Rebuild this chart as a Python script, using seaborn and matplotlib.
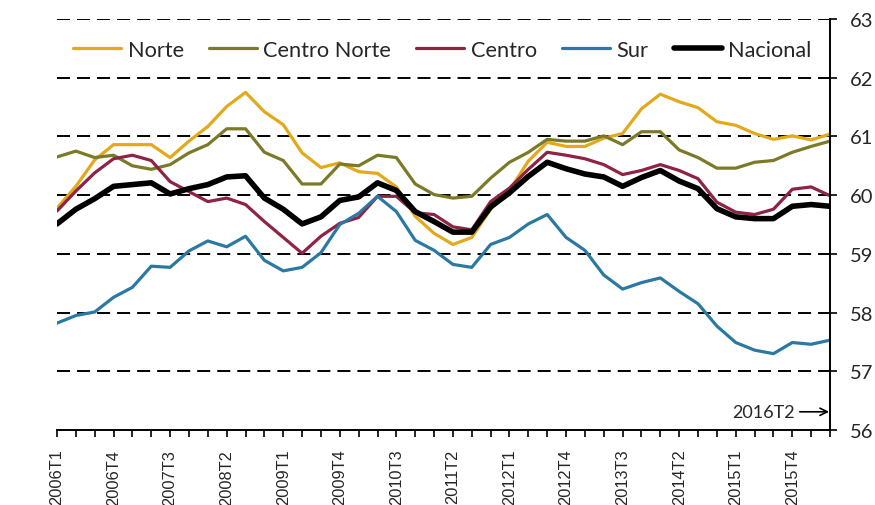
import matplotlib
matplotlib.use("Agg")
import matplotlib.pyplot as plt
import seaborn as sns
import pandas as pd
import numpy as np

quarters = [f"{y}T{q}" for y in range(2006, 2017) for q in range(1, 5)][:42]

norte = [59.78, 60.15, 60.60, 60.86, 60.86, 60.86, 60.64, 60.92, 61.17, 61.51,
         61.75, 61.42, 61.20, 60.72, 60.47, 60.55, 60.40, 60.37, 60.14, 59.64,
         59.35, 59.16, 59.28, 59.76, 60.08, 60.58, 60.90, 60.83, 60.83, 60.97,
         61.05, 61.47, 61.72, 61.59, 61.49, 61.25, 61.19, 61.05, 60.95, 61.01,
         60.94, 61.04]
centro_norte = [60.65, 60.75, 60.64, 60.68, 60.50, 60.44, 60.52, 60.72, 60.86, 61.13,
                61.13, 60.73, 60.59, 60.19, 60.19, 60.53, 60.50, 60.68, 60.64, 60.19,
                60.01, 59.95, 59.98, 60.29, 60.56, 60.73, 60.95, 60.92, 60.92, 61.01,
                60.86, 61.08, 61.08, 60.77, 60.64, 60.46, 60.46, 60.56, 60.59, 60.73,
                60.83, 60.92]
centro = [59.73, 60.07, 60.38, 60.62, 60.68, 60.59, 60.23, 60.06, 59.89, 59.95,
          59.84, 59.55, 59.28, 59.01, 59.30, 59.52, 59.62, 59.98, 59.98, 59.70,
          59.67, 59.46, 59.41, 59.89, 60.12, 60.44, 60.73, 60.68, 60.62, 60.52,
          60.35, 60.42, 60.52, 60.42, 60.28, 59.88, 59.71, 59.67, 59.76, 60.10,
          60.14, 59.99]
sur = [57.82, 57.95, 58.01, 58.26, 58.43, 58.79, 58.77, 59.05, 59.22, 59.12,
       59.30, 58.89, 58.71, 58.77, 59.02, 59.50, 59.69, 59.98, 59.72, 59.23,
       59.06, 58.82, 58.77, 59.16, 59.28, 59.51, 59.67, 59.28, 59.06, 58.64,
       58.40, 58.51, 58.59, 58.36, 58.15, 57.77, 57.49, 57.36, 57.30, 57.49,
       57.46, 57.53]
nacional = [59.51, 59.76, 59.94, 60.15, 60.18, 60.21, 60.02, 60.11, 60.18, 60.31,
            60.33, 59.95, 59.76, 59.51, 59.63, 59.91, 59.97, 60.21, 60.08, 59.72,
            59.55, 59.37, 59.37, 59.80, 60.04, 60.32, 60.56, 60.45, 60.36, 60.31,
            60.15, 60.30, 60.42, 60.24, 60.11, 59.77, 59.63, 59.60, 59.60, 59.81,
            59.84, 59.81]

series_names = ["Norte", "Centro Norte", "Centro", "Sur", "Nacional"]
series_values = [norte, centro_norte, centro, sur, nacional]
colors = ["#E3A91B", "#7A7A28", "#8E2343", "#2B79A3", "#000000"]
widths = [2.3, 2.3, 2.3, 2.3, 4.0]

sns.set_theme(style="white")
plt.rcParams["font.family"] = ["Lato", "DejaVu Sans"]

fig = plt.figure(figsize=(8.75, 5.06), dpi=100)
ax = fig.add_axes([57 / 875, 1 - 431 / 506, (830 - 57) / 875, (431 - 20) / 506])

idx = np.arange(len(quarters))
for name, vals, c, w in zip(series_names, series_values, colors, widths):
    df = pd.DataFrame({"t": idx, "v": vals})
    sns.lineplot(data=df, x="t", y="v", color=c, linewidth=w, label=name, ax=ax)

ax.set_xlim(0, len(quarters) - 1)
ax.set_ylim(56, 63)
ax.set_xlabel("")
ax.set_ylabel("")

for v in range(57, 64):
    ax.axhline(v, color="black", linewidth=1.4, linestyle=(0, (6.7, 3.6)), zorder=0)

ax.set_xticks(idx)
ax.set_xticklabels([q if i % 3 == 0 else "" for i, q in enumerate(quarters)],
                   rotation=90, fontsize=11.8, family=["Liberation Sans", "DejaVu Sans"])
ax.tick_params(axis="x", direction="out", length=5, width=1.2, color="black", pad=8.5, bottom=True)

ax.yaxis.tick_right()
ax.set_yticks(range(56, 64))
ax.tick_params(axis="y", direction="out", length=5, width=1.2, color="black", pad=9.5,
               right=True, labelsize=14.5)

for s in ["left", "top"]:
    ax.spines[s].set_visible(False)
ax.spines["right"].set_color("black")
ax.spines["right"].set_linewidth(1.4)
ax.spines["bottom"].set_color("black")
ax.spines["bottom"].set_linewidth(1.4)

ax.annotate("2016T2", xy=(40.95, 56.31), xytext=(39.15, 56.31), fontsize=13,
            ha="right", va="center",
            arrowprops=dict(arrowstyle="->", color="black", lw=1.2, shrinkA=1, shrinkB=0))

leg = ax.legend(ncol=5, frameon=False, loc="center left", bbox_to_anchor=(0.021, 0.925),
                borderpad=0, borderaxespad=0, fontsize=15.7, handlelength=2.2,
                handletextpad=0.3, columnspacing=1.15)

fig.savefig("out.png", dpi=100)
